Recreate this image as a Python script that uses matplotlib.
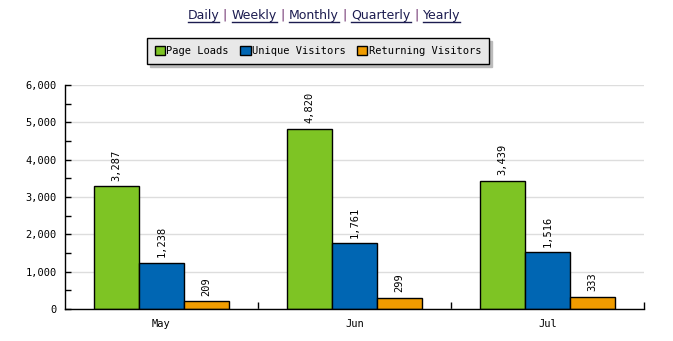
import numpy as np
import matplotlib
matplotlib.use("Agg")
import matplotlib.pyplot as plt
from matplotlib.ticker import MultipleLocator, FuncFormatter, FixedLocator
from matplotlib.patches import Patch

# --- DATA ---
months = ["May", "Jun", "Jul"]
page_loads = [3287, 4820, 3439]
unique_visitors = [1238, 1761, 1516]
returning_visitors = [209, 299, 333]

series_names = ["Page Loads", "Unique Visitors", "Returning Visitors"]
series_colors = ["#7ec424", "#0066b3", "#f09c00"]
periods = ["Daily", "Weekly", "Monthly", "Quarterly", "Yearly"]

MONO = "DejaVu Sans Mono"

fig = plt.figure(figsize=(6.73, 3.41), dpi=100)
ax = fig.add_axes([65 / 673, 1 - 309 / 341, 579 / 673, 224 / 341])

x = np.arange(len(months))
width = 0.233
for k, (vals, color) in enumerate(zip([page_loads, unique_visitors, returning_visitors], series_colors)):
    pos = x + (k - 1) * width
    ax.bar(pos, vals, width=width, color=color, edgecolor="black", linewidth=1, zorder=3)
    for px, v in zip(pos, vals):
        ax.annotate(f"{v:,}", (px, v), xytext=(0, 4), textcoords="offset points",
                    rotation=90, ha="center", va="bottom", fontsize=7.5,
                    family=MONO, color="black")

ax.set_xlim(-0.5, 2.5)
ax.set_ylim(0, 6000)

# y axis: labels every 1000, short marks every 500
ax.yaxis.set_major_locator(MultipleLocator(1000))
ax.yaxis.set_minor_locator(MultipleLocator(500))
ax.yaxis.set_major_formatter(FuncFormatter(lambda v, _: f"{int(v):,}"))
ax.tick_params(axis="y", which="both", direction="in", length=4, width=1,
               labelsize=7.5, pad=6, colors="black")
ax.grid(axis="y", which="major", color="#dddddd", linewidth=1, zorder=0)

# x axis: month names at centres, tick marks between groups
ax.set_xticks(x)
ax.set_xticklabels(months, family=MONO, fontsize=7.5)
ax.tick_params(axis="x", which="major", length=0, pad=7)
ax.xaxis.set_minor_locator(FixedLocator([0.5, 1.5, 2.5]))
ax.tick_params(axis="x", which="minor", direction="in", length=5, width=1)

for lbl in ax.get_yticklabels():
    lbl.set_family(MONO)

ax.spines["top"].set_visible(False)
ax.spines["right"].set_visible(False)
for s in ("left", "bottom"):
    ax.spines[s].set_linewidth(1)
    ax.spines[s].set_zorder(4)

# period links along the top
link_color = "#1c1c50"
sep_color = "#6a2a6a"
fig.canvas.draw()
renderer = fig.canvas.get_renderer()
parts = []
for i, p in enumerate(periods):
    parts.append((p, link_color, True))
    if i < len(periods) - 1:
        parts.append((" | ", sep_color, False))
texts = []
for txt, col, und in parts:
    t = fig.text(0, 1 - 15 / 341, txt, fontsize=9, color=col, family="DejaVu Sans",
                 va="center", ha="left")
    texts.append((t, und))
widths = [t.get_window_extent(renderer).width for t, _ in texts]
total = sum(widths)
xpos = 324 - total / 2
for (t, und), w in zip(texts, widths):
    t.set_position((xpos / 673, 1 - 15 / 341))
    if und:
        fig.add_artist(plt.Line2D([xpos / 673, (xpos + w) / 673],
                                  [1 - 22 / 341, 1 - 22 / 341],
                                  color=link_color, linewidth=1))
    xpos += w

# legend
handles = [Patch(facecolor=c, edgecolor="black", linewidth=1) for c in series_colors]
leg = fig.legend(handles, series_names, ncol=3, loc="center",
                 bbox_to_anchor=(318 / 673, 1 - 51 / 341),
                 prop={"family": MONO, "size": 7.5},
                 fancybox=False, shadow={"color": "#bbbbbb", "alpha": 1},
                 frameon=True, edgecolor="black", facecolor="#e8e8e8", framealpha=1,
                 handlelength=1.0, handleheight=1.0, handletextpad=0.1,
                 columnspacing=1.1, borderpad=0.75)
leg.get_frame().set_linewidth(1)

fig.savefig("out.png", dpi=100)
